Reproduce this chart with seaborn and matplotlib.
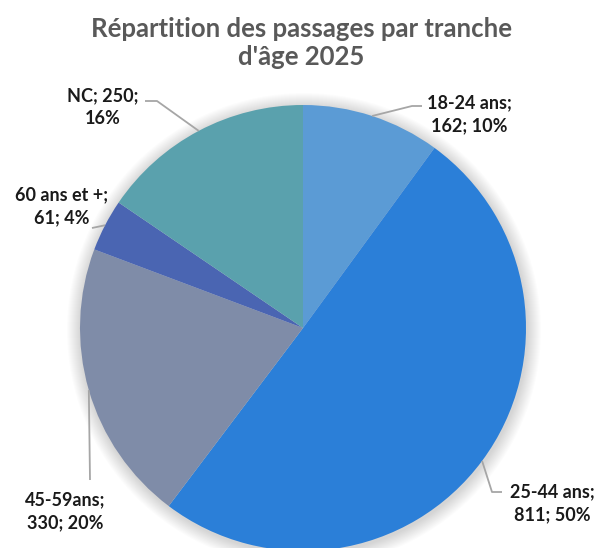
import numpy as np
import matplotlib
matplotlib.use("Agg")
import matplotlib.pyplot as plt
import seaborn as sns
from matplotlib.patches import Circle

# data
tranches = ["18-24 ans", "25-44 ans", "45-59ans", "60 ans et +", "NC"]
passages = [162, 811, 330, 61, 250]
pourcents = [10, 50, 20, 4, 16]
couleurs = ["#5B9BD5", "#2B7FD8", "#7F8CA8", "#4A65B2", "#5AA1AD"]

W, H = 603, 548


def py(y):
    # image y (top-down) -> axes y (bottom-up)
    return H - y


sns.set_theme(style="white")
plt.rcParams["font.family"] = ["Lato", "DejaVu Sans"]

fig = plt.figure(figsize=(W / 100, H / 100), dpi=100)
ax = fig.add_axes([0, 0, 1, 1])

cx, cy, r = 303, py(328), 223

# soft shadow round the pie
for i in range(14):
    ax.add_patch(Circle((cx + 1, cy - 2), r + 14 - i, color="#000000",
                        alpha=0.012, lw=0, zorder=0))

wedges, _ = ax.pie(passages, colors=couleurs, startangle=90, counterclock=False,
                   center=(cx, cy), radius=r, frame=True,
                   wedgeprops=dict(linewidth=0))
ax.set_xlim(0, W)
ax.set_ylim(0, H)
ax.set_aspect("equal")
ax.axis("off")

# label centre and leader elbow points (image coords)
label_pos = [(469, 114), (552, 503), (65, 511), (62, 206), (103, 107)]
elbows = [
    [(412, 106), (422, 106)],
    [(492, 492), (502, 492)],
    [(90, 480)],
    [(92, 228)],
    [(157, 101), (145, 101)],
]
coupe_apres_valeur = [False, False, False, False, True]

for w, name, val, pct, pos, elb, brk in zip(wedges, tranches, passages, pourcents,
                                            label_pos, elbows, coupe_apres_valeur):
    mid = np.deg2rad((w.theta1 + w.theta2) / 2)
    x0, y0 = cx + r * np.cos(mid), cy + r * np.sin(mid)
    xs = [x0] + [p[0] for p in elb]
    ys = [y0] + [py(p[1]) for p in elb]
    ax.plot(xs, ys, color="#A6A6A6", lw=1.3, zorder=3, solid_capstyle="butt")
    if brk:
        txt = f"{name}; {val};\n{pct}%"
    else:
        txt = f"{name};\n{val}; {pct}%"
    ax.text(pos[0], py(pos[1]), txt, ha="center", va="center", ma="center",
            fontsize=13, fontweight="bold", color="#1a1a1a", linespacing=1.45,
            zorder=4)

ax.text(W / 2, py(43), "Répartition des passages par tranche\nd'âge 2025",
        ha="center", va="center", ma="center", fontsize=18.5, fontweight="bold",
        color="#595959", linespacing=1.2)

fig.savefig("out.png", dpi=100)
